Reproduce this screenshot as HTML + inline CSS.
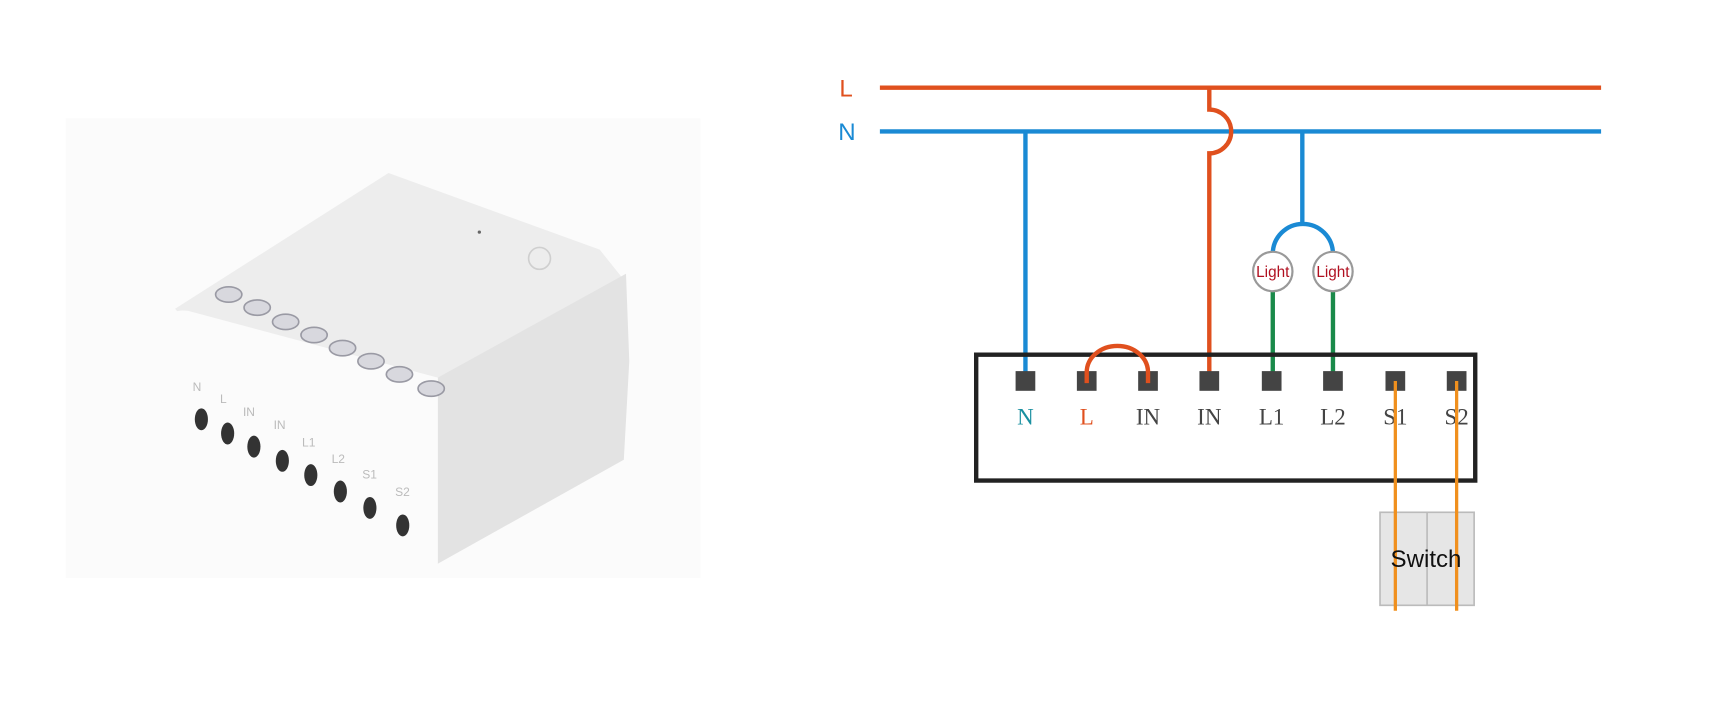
<!DOCTYPE html>
<html><head><meta charset="utf-8"><style>
html,body{margin:0;padding:0;background:#fff;width:1716px;height:728px;overflow:hidden}
svg{display:block}
</style></head><body>
<svg width="1716" height="728" viewBox="0 0 1568 665" xmlns="http://www.w3.org/2000/svg">
<rect x="0" y="0" width="1568" height="665" fill="#fff"/>
<rect x="60" y="108" width="580" height="420" fill="#fbfbfb"/>
<!-- device -->
<polygon points="160,282 355,158 548,228 572,258 400,345 175,300" fill="#ededed"/>
<polygon points="400,345 572,250 575,330 570,420 400,515" fill="#e3e3e3"/>
<path d="M155,290 Q158,282 172,284 L400,345 L400,515 L185,445 Q168,440 166,425 Z" fill="#fbfbfb"/>
<circle cx="493" cy="236" r="10" fill="none" stroke="#cfcfcf" stroke-width="1.5"/>
<circle cx="438" cy="212" r="1.5" fill="#666"/>
<g fill="#d8d8de" stroke="#9a9aa4" stroke-width="1.5">
<ellipse cx="209" cy="269" rx="12" ry="7"/><ellipse cx="235" cy="281" rx="12" ry="7"/>
<ellipse cx="261" cy="294" rx="12" ry="7"/><ellipse cx="287" cy="306" rx="12" ry="7"/>
<ellipse cx="313" cy="318" rx="12" ry="7"/><ellipse cx="339" cy="330" rx="12" ry="7"/>
<ellipse cx="365" cy="342" rx="12" ry="7"/><ellipse cx="394" cy="355" rx="12" ry="7"/>
</g>
<g fill="#333">
<ellipse cx="184" cy="383" rx="6" ry="10"/><ellipse cx="208" cy="396" rx="6" ry="10"/>
<ellipse cx="232" cy="408" rx="6" ry="10"/><ellipse cx="258" cy="421" rx="6" ry="10"/>
<ellipse cx="284" cy="434" rx="6" ry="10"/><ellipse cx="311" cy="449" rx="6" ry="10"/>
<ellipse cx="338" cy="464" rx="6" ry="10"/><ellipse cx="368" cy="480" rx="6" ry="10"/>
</g>
<g fill="#bbb" font-family="Liberation Sans, sans-serif" font-size="11">
<text x="176" y="357">N</text><text x="201" y="368">L</text><text x="222" y="380">IN</text>
<text x="250" y="392">IN</text><text x="276" y="408">L1</text><text x="303" y="423">L2</text>
<text x="331" y="437">S1</text><text x="361" y="453">S2</text>
</g>
<!-- diagram -->
<g font-family="Liberation Sans, sans-serif" font-size="22">
<text x="767" y="88" fill="#e0501e">L</text>
<text x="766" y="128" fill="#1a8ad4">N</text>
</g>
<line x1="804" y1="80" x2="1463" y2="80" stroke="#e0501e" stroke-width="4"/>
<line x1="804" y1="120" x2="1463" y2="120" stroke="#1a8ad4" stroke-width="4"/>
<line x1="937" y1="120" x2="937" y2="350" stroke="#1a8ad4" stroke-width="4"/>
<path d="M1105,80 L1105,100 A19,19 0 0 1 1105,140 L1105,350" fill="none" stroke="#e0501e" stroke-width="4"/>
<path d="M1190,120 L1190,203 M1163,232 A27,27 0 0 1 1218,232" fill="none" stroke="#1a8ad4" stroke-width="4"/>
<line x1="1163" y1="266" x2="1163" y2="350" stroke="#1a8a4a" stroke-width="4"/>
<line x1="1218" y1="266" x2="1218" y2="350" stroke="#1a8a4a" stroke-width="4"/>
<g fill="#fff" stroke="#999" stroke-width="2">
<circle cx="1163" cy="248" r="18"/><circle cx="1218" cy="248" r="18"/>
</g>
<g fill="#b01020" font-family="Liberation Sans, sans-serif" font-size="14" text-anchor="middle">
<text x="1163" y="253">Light</text><text x="1218" y="253">Light</text>
</g>
<rect x="892" y="324" width="456" height="115" fill="none" stroke="#222" stroke-width="4"/>
<g fill="#444">
<rect x="928" y="339" width="18" height="18"/><rect x="984" y="339" width="18" height="18"/>
<rect x="1040" y="339" width="18" height="18"/><rect x="1096" y="339" width="18" height="18"/>
<rect x="1153" y="339" width="18" height="18"/><rect x="1209" y="339" width="18" height="18"/>
<rect x="1266" y="339" width="18" height="18"/><rect x="1322" y="339" width="18" height="18"/>
</g>
<path d="M993,350 L993,340 A28,24 0 0 1 1049,340 L1049,350" fill="none" stroke="#e0501e" stroke-width="4"/>
<g font-family="Liberation Serif, serif" font-size="21" text-anchor="middle" fill="#444">
<text x="937" y="388" fill="#1a90a0">N</text><text x="993" y="388" fill="#e0501e">L</text>
<text x="1049" y="388">IN</text><text x="1105" y="388">IN</text>
<text x="1162" y="388">L1</text><text x="1218" y="388">L2</text>
<text x="1275" y="388">S1</text><text x="1331" y="388">S2</text>
</g>
<rect x="1261" y="468" width="86" height="85" fill="#e6e6e6" stroke="#bbb" stroke-width="1.5"/>
<line x1="1304" y1="468" x2="1304" y2="553" stroke="#bbb" stroke-width="1.5"/>
<line x1="1275" y1="348" x2="1275" y2="558" stroke="#f0901e" stroke-width="3"/>
<line x1="1331" y1="348" x2="1331" y2="558" stroke="#f0901e" stroke-width="3"/>
<text x="1303" y="518" font-family="Liberation Sans, sans-serif" font-size="22" text-anchor="middle" fill="#111">Switch</text>
</svg>
</body></html>
